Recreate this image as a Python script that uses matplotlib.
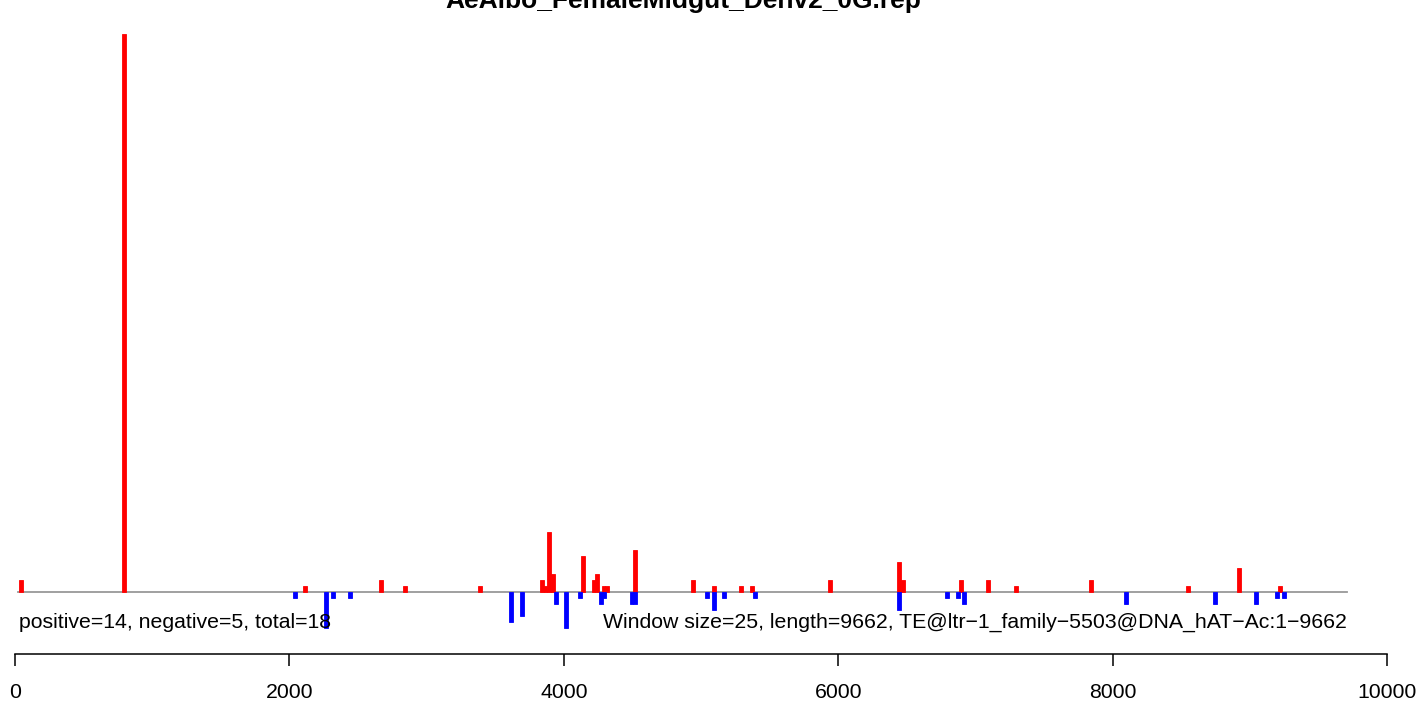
#!/usr/bin/env python3

import matplotlib
matplotlib.use("Agg")
import matplotlib.pyplot as plt

title = "AeAlbo_FemaleMidgut_Denv2_0G.rep"
left_note = "positive=14, negative=5, total=18"
right_note = "Window size=25, length=9662, TE@ltr\u22121_family\u22125503@DNA_hAT\u2212Ac:1\u22129662"

# window centres and read counts (positive strand)
pos_x = [44, 794, 2114, 2668, 2843, 3389, 3841, 3866, 3892, 3921, 4140, 4216,
         4242, 4289, 4315, 4519, 4942, 5095, 5292, 5372, 5940, 6443, 6472,
         6895, 7092, 7296, 7843, 8550, 8921, 9220]
pos_h = [2, 93, 1, 2, 1, 1, 2, 1, 10, 3, 6, 2,
         3, 1, 1, 7, 2, 1, 1, 1, 2, 5, 2,
         2, 2, 1, 2, 1, 4, 1]

# negative strand
neg_x = [2041, 2267, 2318, 2442, 3615, 3695, 3943, 4016, 4118, 4271, 4297,
         4494, 4519, 5044, 5095, 5168, 5394, 6443, 6793, 6873, 6917, 8098,
         8746, 9045, 9198, 9249]
neg_h = [1, 6, 1, 1, 5, 4, 2, 6, 1, 2, 1,
         2, 2, 1, 3, 1, 1, 3, 1, 1, 2, 2,
         2, 2, 1, 1]

ticks = [0, 2000, 4000, 6000, 8000, 10000]

W, H = 1421, 704
fig = plt.figure(figsize=(W / 100, H / 100), dpi=100)
ax = fig.add_axes([15 / W, 50 / H, 1372 / W, 654 / H])
ax.set_xlim(0, 10000)
ax.set_ylim(-10.333, 98.667)

font = "Liberation Sans"
fs = 15.3

ax.plot([22, 9708], [0, 0], color="#999999", lw=1.3, zorder=1)
ax.bar(pos_x, pos_h, width=25, color="#ff0000", edgecolor="#ff0000",
       linewidth=0.6, zorder=2)
ax.bar(neg_x, [-h for h in neg_h], width=25, color="#0000ff",
       edgecolor="#0000ff", linewidth=0.6, zorder=2)

ax.text(29, -6, left_note, ha="left", va="baseline", fontsize=fs, family=font)
ax.text(9708, -6, right_note, ha="right", va="baseline", fontsize=fs, family=font)

for s in ["top", "right", "left"]:
    ax.spines[s].set_visible(False)
ax.spines["bottom"].set_bounds(0, 10000)
ax.spines["bottom"].set_linewidth(1.1)
ax.set_yticks([])
ax.set_xticks(ticks)
ax.set_xticklabels([str(t) for t in ticks], fontsize=fs, family=font)
ax.tick_params(axis="x", length=8.6, width=1.1, pad=12.5, direction="out")

fig.text(683 / W, 1 - 8 / H, title, ha="center", va="baseline",
         fontsize=19, fontweight="bold", family=font)

fig.savefig("out.png", dpi=100)
